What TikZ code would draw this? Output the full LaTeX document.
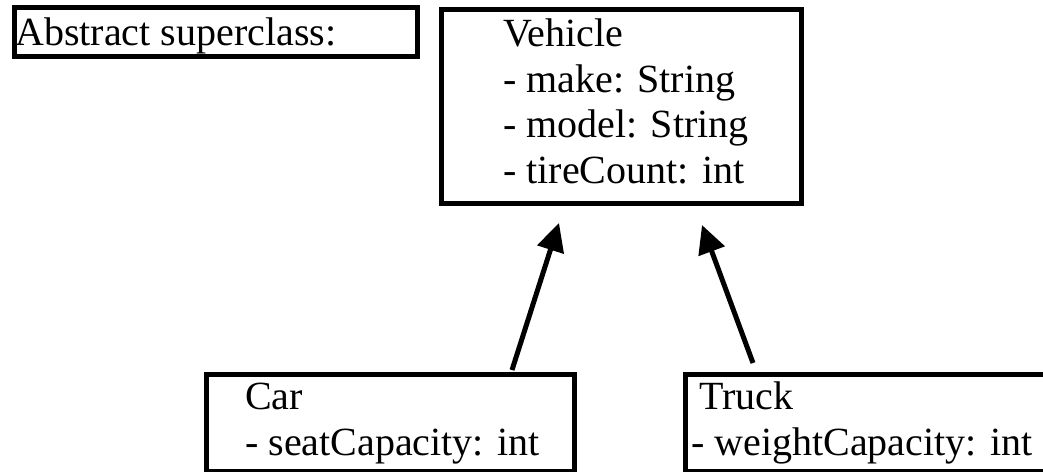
\documentclass[tikz,border=0pt]{standalone}
\usepackage{fontspec}
\setmainfont{Liberation Serif}
\usetikzlibrary{arrows.meta,calc}

\tikzset{
  umlbox/.style={draw=black, line width=5pt, fill=white, inner sep=0pt, anchor=north west},
  umltext/.style={anchor=base west, inner sep=0pt, align=left,
                  font=\fontsize{40}{45.5}\selectfont},
  inherit/.style={line width=5pt, -{Triangle[length=28pt,width=27pt]}},
}

\begin{document}
\begin{tikzpicture}[x=1pt,y=-1pt]
  \useasboundingbox (0,0) rectangle (1043,471);

  % class boxes (top-left corner, size)
  \node[umlbox, minimum width=403pt, minimum height=49pt] (abstract) at (12,5) {};
  \node[umlbox, minimum width=360pt, minimum height=194pt] (vehicle) at (439,7) {};
  \node[umlbox, minimum width=368pt, minimum height=97pt] (car) at (204,372) {};
  \node[umlbox, minimum width=366pt, minimum height=97pt] (truck) at (683,372) {};

  % contents (anchored on the baseline of the last line)
  \node[umltext] (abstracttext) at (15,45) {Abstract superclass:};
  \node[umltext] (vehicletext) at (503,183)
    {Vehicle\\- make: String\\- model: String\\- tireCount: int};
  \node[umltext] (cartext) at (245,455) {Car\\- seatCapacity: int};
  \node[umltext] (trucktext) at (691,455) {\hspace{8pt}Truck\\- weightCapacity: int};

  % inheritance arrows
  \coordinate (cartail) at ($(car.north west)+(308,-2)$);
  \coordinate (cartip) at ($(vehicle.south west)+(120,17)$);
  \coordinate (trucktail) at ($(truck.north west)+(70,-9)$);
  \coordinate (trucktip) at ($(vehicle.south west)+(263,19)$);
  \draw[inherit] (cartail) -- (cartip);
  \draw[inherit] (trucktail) -- (trucktip);
\end{tikzpicture}
\end{document}
